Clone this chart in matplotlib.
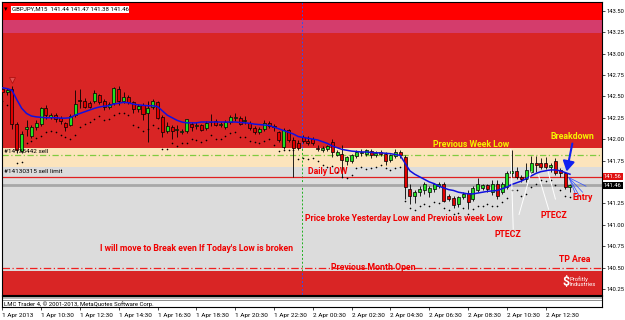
import matplotlib
matplotlib.use('Agg')
import matplotlib.pyplot as plt
from matplotlib import font_manager
from matplotlib.patches import Rectangle
import matplotlib.transforms as mtransforms

# ---------------- data ----------------
opens = [142.58,142.55,142.58,142.18,141.86,142.12,142.04,142.14,142.18,142.36,
142.26,142.28,142.25,142.19,142.17,142.28,142.46,142.44,142.42,142.44,
142.51,142.45,142.37,142.42,142.59,142.44,142.49,142.43,142.35,142.40,
142.30,142.37,142.43,142.26,142.09,142.14,142.11,142.08,142.09,142.18,
142.15,142.16,142.13,142.20,142.21,142.16,142.14,142.20,142.25,142.25,
142.21,142.19,142.13,142.08,142.12,142.19,142.15,142.08,141.91,142.11,
141.99,141.96,142.03,141.98,142.00,141.90,141.87,141.88,141.97,141.82,
141.83,141.74,141.74,141.80,141.84,141.83,141.86,141.82,141.85,141.83,
141.76,141.80,141.85,141.79,141.42,141.33,141.38,141.40,141.38,141.42,
141.45,141.48,141.33,141.31,141.24,141.32,141.37,141.30,141.40,141.43,
141.46,141.38,141.48,141.38,141.44,141.61,141.63,141.56,141.53,141.62,
141.72,141.72,141.72,141.68,141.75,141.64,141.60,141.44]
highs = [142.60,142.60,142.62,142.20,142.10,142.22,142.17,142.22,142.38,142.40,
142.30,142.31,142.27,142.20,142.29,142.57,142.58,142.48,142.45,142.57,
142.53,142.47,142.43,142.61,142.62,142.55,142.52,142.45,142.41,142.42,
142.44,142.47,142.45,142.28,142.20,142.17,142.16,142.12,142.24,142.20,
142.20,142.18,142.21,142.29,142.24,142.20,142.22,142.28,142.30,142.27,
142.27,142.21,142.15,142.14,142.22,142.21,142.18,142.10,142.13,142.12,
142.02,141.99,142.05,142.04,142.02,141.93,141.92,141.93,142.00,141.87,
141.93,141.80,141.83,141.87,141.88,141.89,141.88,141.86,141.87,141.85,
141.83,141.89,141.87,141.81,141.48,141.40,141.45,141.50,141.45,141.49,
141.50,141.50,141.36,141.34,141.34,141.38,141.40,141.45,141.55,141.48,
141.48,141.52,141.52,141.50,141.63,141.87,141.68,141.58,141.72,141.80,
141.80,141.78,141.79,141.72,141.78,141.66,141.62,141.47]
lows = [142.53,142.52,142.12,141.84,141.84,142.04,142.01,142.11,142.15,142.24,
142.24,142.20,142.18,142.10,142.15,142.26,142.36,142.36,142.36,142.42,
142.41,142.34,142.35,142.40,142.40,142.42,142.41,142.30,142.32,142.22,
141.97,142.35,142.23,142.02,142.07,142.00,142.03,142.06,142.07,142.10,
142.12,142.09,142.11,142.15,142.15,142.14,142.12,142.18,142.21,142.16,
142.18,142.11,142.06,142.06,142.10,142.13,142.10,141.97,141.89,141.97,
141.56,141.87,141.95,141.93,141.93,141.86,141.85,141.86,141.79,141.80,
141.56,141.70,141.72,141.78,141.80,141.80,141.78,141.79,141.80,141.70,
141.73,141.78,141.78,141.30,141.24,141.25,141.33,141.36,141.32,141.38,
141.43,141.26,141.28,141.20,141.21,141.30,141.18,141.28,141.38,141.40,
141.38,141.35,141.30,141.36,141.42,141.56,141.54,141.50,141.50,141.60,
141.62,141.65,141.65,141.62,141.58,141.56,141.42,141.38]
closes = [142.55,142.57,142.18,141.87,142.06,142.14,142.14,142.19,142.36,142.28,
142.28,142.23,142.21,142.14,142.27,142.41,142.44,142.38,142.38,142.54,
142.43,142.37,142.41,142.60,142.44,142.49,142.43,142.35,142.39,142.29,
142.36,142.44,142.25,142.08,142.15,142.09,142.11,142.10,142.23,142.14,
142.17,142.11,142.19,142.20,142.17,142.18,142.20,142.26,142.26,142.18,
142.22,142.13,142.08,142.12,142.19,142.15,142.14,141.99,142.11,141.99,
141.90,141.90,141.98,141.96,141.96,141.88,141.90,141.92,141.85,141.85,
141.76,141.79,141.81,141.85,141.85,141.87,141.81,141.84,141.83,141.74,
141.81,141.85,141.81,141.44,141.33,141.38,141.42,141.48,141.43,141.47,
141.48,141.28,141.30,141.23,141.32,141.36,141.26,141.43,141.48,141.46,
141.42,141.48,141.34,141.47,141.61,141.63,141.56,141.53,141.64,141.72,
141.70,141.67,141.67,141.70,141.60,141.60,141.44,141.46]
ma_line = [142.60,142.59,142.57,142.46,142.36,142.30,142.27,142.26,142.255,142.25,
142.25,142.25,142.245,142.245,142.25,142.28,142.30,142.32,142.34,142.36,
142.375,142.385,142.39,142.41,142.42,142.43,142.425,142.41,142.40,142.395,
142.39,142.39,142.38,142.33,142.28,142.25,142.22,142.20,142.19,142.19,
142.19,142.20,142.20,142.20,142.20,142.20,142.20,142.20,142.20,142.195,
142.19,142.185,142.175,142.17,142.165,142.16,142.14,142.12,142.10,142.08,
142.06,142.03,142.02,142.01,142.00,141.99,141.97,141.95,141.92,141.90,
141.88,141.87,141.86,141.855,141.85,141.85,141.845,141.84,141.84,141.835,
141.83,141.82,141.81,141.72,141.63,141.59,141.56,141.53,141.50,141.48,
141.45,141.43,141.41,141.40,141.38,141.37,141.36,141.36,141.37,141.38,
141.39,141.395,141.40,141.42,141.44,141.47,141.49,141.51,141.54,141.57,
141.60,141.62,141.63,141.64,141.64,141.63,141.61,141.59]
dots = [142.45,142.40,142.38,141.72,141.73,141.95,141.98,142.01,142.04,142.08,
142.10,142.08,142.05,142.02,142.00,142.05,142.14,142.18,142.20,142.24,
142.27,142.22,142.24,142.28,142.30,142.30,142.28,142.16,142.14,142.10,
142.12,142.16,142.13,141.88,141.88,141.95,141.92,141.95,141.95,142.00,
141.99,141.97,141.99,142.05,142.00,142.00,142.04,142.07,142.08,142.03,
142.03,141.98,141.97,141.95,141.98,142.00,141.93,141.86,141.87,141.87,
141.87,141.77,141.78,141.77,141.78,141.75,141.70,141.68,141.69,141.62,
141.56,141.55,141.58,141.66,141.68,141.65,141.66,141.68,141.70,141.66,
141.64,141.66,141.68,141.28,141.20,141.17,141.22,141.24,141.22,141.26,
141.25,141.20,141.17,141.13,141.14,141.19,141.12,141.18,141.22,141.22,
141.24,141.22,141.22,141.26,141.31,141.40,141.40,141.34,141.36,141.44,
141.48,141.52,141.51,141.52,141.46,141.40,141.34,141.32]

time_labels = ['1 Apr 2013', '1 Apr 10:30', '1 Apr 12:30', '1 Apr 14:30', '1 Apr 16:30',
               '1 Apr 18:30', '1 Apr 20:30', '1 Apr 22:30', '2 Apr 00:30', '2 Apr 02:30',
               '2 Apr 04:30', '2 Apr 06:30', '2 Apr 08:30', '2 Apr 10:30', '2 Apr 12:30']
time_label_bars = [0, 8, 16, 24, 32, 40, 48, 56, 64, 72, 80, 88, 96, 104, 112]
price_ticks = [143.50, 143.25, 143.00, 142.75, 142.50, 142.25, 142.00, 141.75,
               141.25, 141.00, 140.75, 140.50, 140.25]

sell_limit = 141.56
bid_price = 141.46
sell_entry = 141.81
prev_month_open = 140.50
day_separator_bar = 61.8

# zones (price ranges)
zone_top = (143.39, 143.70)
zone_pink = (143.24, 143.39)
zone_red = (141.896, 143.24)
zone_peach = (141.67, 141.896)
zone_gray = (140.465, 141.67)
zone_red_low = (140.10, 140.455)

# ---------------- fonts ----------------
avail = {f.name for f in font_manager.fontManager.ttflist}
NARROW = 'Liberation Sans Narrow' if 'Liberation Sans Narrow' in avail else 'Roboto'
SMALL = NARROW

W, H = 625, 320
fig = plt.figure(figsize=(6.25, 3.2), dpi=100)
fig.patch.set_facecolor('white')

def fx(px):
    return px / W

def fy(py):
    return 1 - py / H

ax = fig.add_axes([fx(2), fy(295), fx(600), 293 / H])
ax.set_xlim(-0.06, 123.6)
ax.set_ylim(140.179, 143.602)

# background zones
ax.axhspan(*zone_top, color='#FF0000', lw=0, zorder=0)
ax.axhspan(*zone_pink, color='#D43C6C', lw=0, zorder=0)
ax.axhspan(*zone_red, color='#D92525', lw=0, zorder=0)
ax.axhspan(*zone_peach, color='#FCE4BC', lw=0, zorder=0)
ax.axhspan(*zone_gray, color='#DCDCDC', lw=0, zorder=0)
ax.axhspan(zone_red_low[1], zone_gray[0], color='white', lw=0, zorder=0)
ax.axhspan(*zone_red_low, color='#D92525', lw=0, zorder=0)

# day separator
ax.plot([day_separator_bar, day_separator_bar], [zone_red[0], 143.70], color='#3050F0',
        lw=0.7, ls=(0, (2, 2)), zorder=1)
ax.plot([day_separator_bar, day_separator_bar], [zone_red_low[1], zone_red[0]], color='#20B020',
        lw=0.7, ls=(0, (2, 2)), zorder=1)
ax.plot([day_separator_bar, day_separator_bar], [140.10, zone_red_low[1]], color='#3050F0',
        lw=0.7, ls=(0, (2, 2)), zorder=1)

# horizontal levels
ax.axhline(sell_entry, color='#80CC40', lw=0.9, ls=(0, (5, 2, 1, 2)), zorder=1)
ax.axhline(sell_limit, color='#E02020', lw=0.9, zorder=1)
ax.axhline(bid_price, color='#A8A8A8', lw=2.0, zorder=1)
ax.axhline(prev_month_open, color='#F02020', lw=0.9, ls=(0, (6, 2, 1, 2)), zorder=1)

# dots indicator
xs = list(range(len(closes)))
ax.scatter(xs, dots, s=1.4, color='black', lw=0, zorder=3)

# candles
bw = 0.62
for i in xs:
    o, h, l, c = opens[i], highs[i], lows[i], closes[i]
    ax.plot([i, i], [l, h], color='black', lw=0.6, zorder=4, solid_capstyle='butt')
    lo, hi = min(o, c), max(o, c)
    col = '#22E022' if c >= o else '#E00000'
    ax.add_patch(Rectangle((i - bw / 2, lo), bw, max(hi - lo, 0.004), facecolor=col,
                           edgecolor='black', lw=0.5, zorder=5))

# moving average
ax.plot(xs, ma_line, color='#1010E0', lw=1.1, zorder=6)

# PTECZ white lines
ptecz_lines = [((104.8, 141.88), (105.3, 140.95)),
               ((109.0, 141.62), (106.5, 141.12)),
               ((110.5, 141.58), (112.6, 141.18)),
               ((112.5, 141.62), (114.0, 141.30))]
for (x0, y0), (x1, y1) in ptecz_lines:
    ax.plot([x0, x1], [y0, y1], color='white', lw=0.7, zorder=6)

# Breakdown arrow
ax.annotate('', xy=(116.2, 141.59), xytext=(117.6, 141.98),
            arrowprops=dict(arrowstyle='-|>,head_length=0.6,head_width=0.35', color='#1020F0',
                            lw=1.5), zorder=7)
# entry fan
for (x1, y1) in [(119.6, 141.38), (119.0, 141.33), (120.3, 141.45), (118.2, 141.35)]:
    ax.plot([116.8, x1], [141.55, y1], color='#3050FF', lw=0.5, zorder=7)

# sell arrow marker
ax.plot([2], [142.69], marker='v', ms=4, mfc='#E05050', mec='#B01010', mew=0.6, zorder=7)

# texts
red = '#F00000'
tk = dict(fontfamily=NARROW, fontweight='bold', fontsize=6.3, zorder=8, va='center')
ax.text(88.8, 141.943, 'Previous Week Low', color='#F5F500', **tk)
ax.text(112.9, 142.036, 'Breakdown', color='#F5F500', **tk)
ax.text(63.0, 141.627, 'Daily LOW', color=red, **tk)
ax.text(62.4, 141.078, 'Price broke Yesterday Low and Previous week Low', color=red, **tk)
ax.text(20.1, 140.728, "I will move to Break even If Today's Low is broken", color=red, **tk)
ax.text(67.8, 140.506, 'Previous Month Open', color=red, **tk)
ax.text(101.4, 140.88, 'PTECZ', color=red, **tk)
ax.text(110.9, 141.113, 'PTECZ', color=red, **tk)
ax.text(117.5, 141.32, 'Entry', color=red, **tk)
ax.text(114.8, 140.59, 'TP Area', color=red, **tk)

# logo
ax.text(116.2, 140.33, '$', color='white', fontsize=9, fontweight='bold', ha='center',
        va='center', zorder=8, fontfamily=NARROW)
ax.text(117.0, 140.335, 'Profitly\nIndustries', color='white', fontsize=4.3, ha='left',
        va='center', zorder=9, fontfamily=NARROW, linespacing=0.9)

# order labels
sk = dict(fontfamily=SMALL, fontsize=4.6, color='black', zorder=8, va='bottom')
ax.text(0.3, sell_entry + 0.02, '#14135442 sell', **sk)
ax.text(0.3, sell_limit + 0.03, '#14130315 sell limit', **sk)

# header
ax.text(0.004, 0.985, '\u25BE', transform=ax.transAxes, fontsize=5, va='top', ha='left',
        fontfamily='DejaVu Sans', zorder=9)
ax.text(0.016, 0.983, 'GBPJPY,M15  141.44 141.47 141.38 141.46', transform=ax.transAxes,
        fontsize=4.3, va='top', ha='left', fontfamily=SMALL, zorder=9,
        bbox=dict(facecolor='white', edgecolor='none', pad=0.6))

# axes styling
for s in ax.spines.values():
    s.set_color('black')
    s.set_linewidth(0.8)
ax.set_xticks([])
ax.yaxis.tick_right()
ax.set_yticks(price_ticks)
ax.set_yticklabels([f'{p:.2f}' for p in price_ticks])
ax.tick_params(axis='y', length=2, width=0.5, labelsize=4.2, pad=1.0, colors='black')
for lab in ax.get_yticklabels():
    lab.set_fontfamily(SMALL)

# price boxes on the right axis
trans = mtransforms.blended_transform_factory(ax.transAxes, ax.transData)
ax.text(1.003, sell_limit, f'{sell_limit:.2f}', transform=trans, fontsize=4.2, color='white',
        va='center', ha='left', fontfamily=SMALL, clip_on=False,
        bbox=dict(facecolor='#E01010', edgecolor='none', pad=0.7))
ax.text(1.003, bid_price, f'{bid_price:.2f}', transform=trans, fontsize=4.2, color='white',
        va='center', ha='left', fontfamily=SMALL, clip_on=False,
        bbox=dict(facecolor='black', edgecolor='none', pad=0.7))

# bottom indicator strip + time axis
ax2 = fig.add_axes([fx(2), fy(307), fx(600), 11 / H])
ax2.set_xlim(-0.06, 123.6)
ax2.set_ylim(0, 11)
ax2.set_facecolor('white')
ax2.axhspan(8.5, 10.5, color='#B8B8B8', lw=0)
ax2.axhspan(6.5, 7.5, color='#909090', lw=0)
ax2.text(0.3, 3.2, 'LMC Trader 4, \u00a9 2001-2013, MetaQuotes Software Corp.', fontsize=4.3,
         color='black', va='center', ha='left', fontfamily=SMALL)
for s in ax2.spines.values():
    s.set_color('black')
    s.set_linewidth(0.8)
ax2.set_yticks([])
ax2.set_xticks(time_label_bars)
ax2.set_xticklabels(time_labels, ha='left')
ax2.tick_params(axis='x', length=2.5, width=0.5, labelsize=4.6, pad=1.5)
for lab in ax2.get_xticklabels():
    lab.set_fontfamily(SMALL)

fig.savefig('out.png', dpi=100)
